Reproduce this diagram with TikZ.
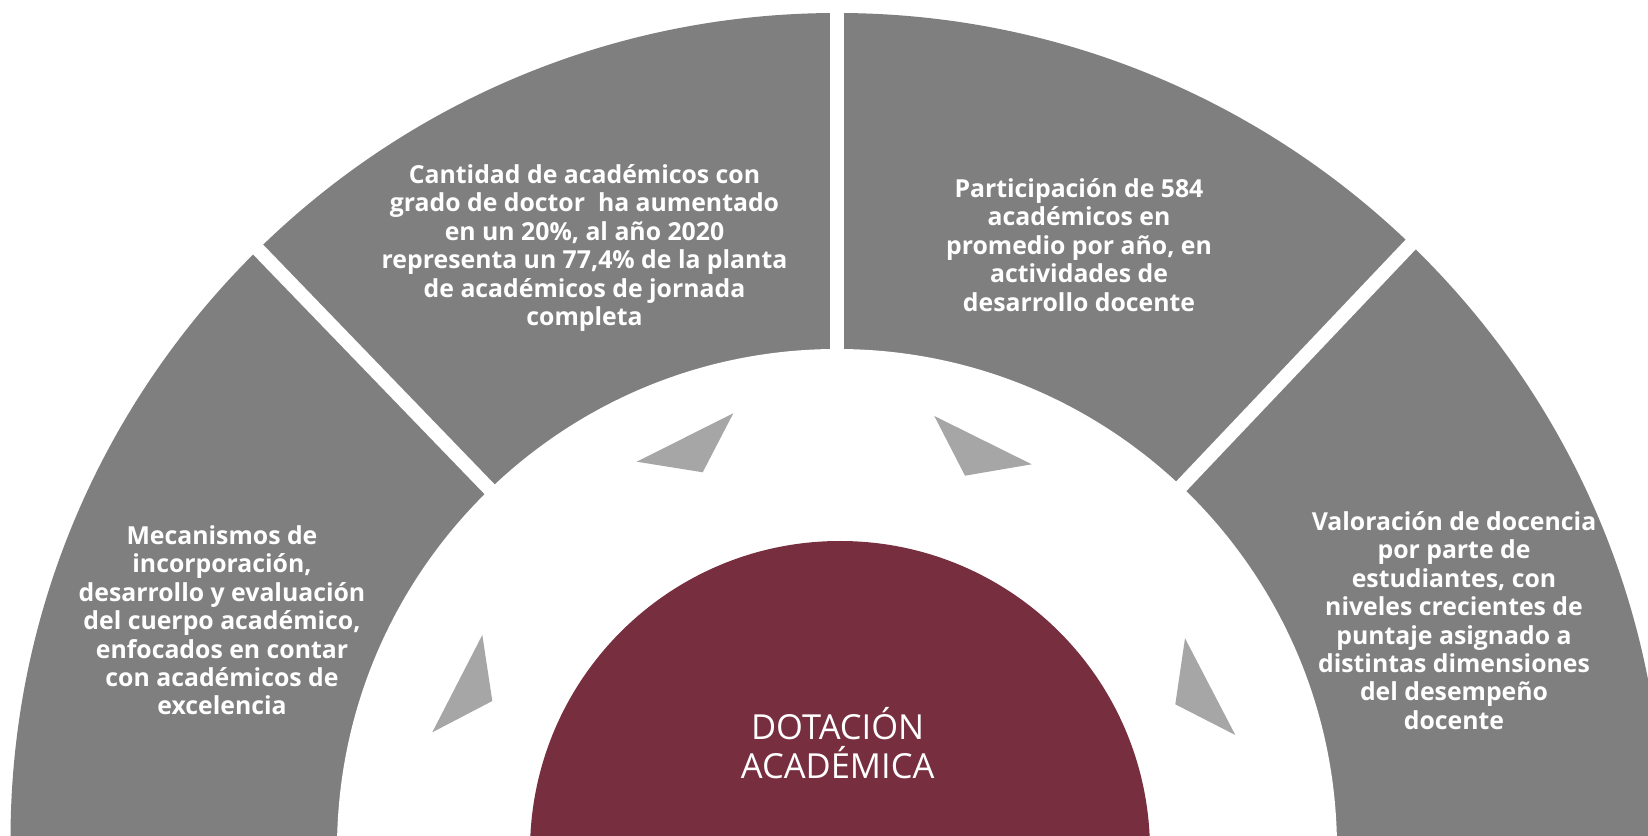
\documentclass[tikz,border=0pt]{standalone}
\usepackage{fontspec}
\setmainfont{Open Sans}
\definecolor{segGray}{HTML}{7F7F7F}
\definecolor{triGray}{HTML}{A6A6A6}
\definecolor{wine}{HTML}{772E3F}
\begin{document}
\begin{tikzpicture}[x=1pt,y=1pt,
    seg text/.style={text=white,align=center,font=\fontsize{24.8}{28.4}\selectfont\bfseries},
    core text/.style={text=white,align=center,font=\fontsize{34.5}{39}\selectfont},
    pointer/.style={fill=triGray}]
        \fill[white] (0,0) rectangle (1648,835);
        \useasboundingbox (0,0) rectangle (1648,835);

        % ring, gaps and core
        \begin{scope}
            \clip (0,0) rectangle (1648,835);
            \fill[segGray] (837,-4.5) circle (826.5);
            \fill[white] (837,-14) circle (500);
            \foreach \ang in {46.5,90,134}
                \draw[white,line width=14] (837,-14) -- ++(\ang:900);
            \fill[wine] (840,-16) circle (310);
        \end{scope}

        % pointers
        \fill[pointer] (733.3,421.7) -- (636.7,373.3) -- (702.7,362.7) -- cycle;
        \fill[pointer] (934.3,419) -- (1031.7,370.7) -- (965,359.3) -- cycle;
        \fill[pointer] (482.3,200) -- (492.3,134) -- (432.3,102.7) -- cycle;
        \fill[pointer] (1185,196.7) -- (1175.3,130.7) -- (1235.3,100) -- cycle;

        \node[seg text] at (584.5,587) (grado) {Cantidad de académicos con\\grado de doctor~ ha aumentado\\en un 20\%, al año 2020\\representa un 77,4\% de la planta\\de académicos de jornada\\completa};
        \node[seg text] at (1079,590) (desarrollo) {Participación de 584\\académicos en\\promedio por año, en\\actividades de\\desarrollo docente};
        \node[seg text] at (222,214.5) (mecanismos) {Mecanismos de\\incorporación,\\desarrollo y evaluación\\del cuerpo académico,\\enfocados en contar\\con académicos de\\excelencia};
        \node[seg text] at (1454,214.5) (valoracion) {Valoración de docencia\\por parte de\\estudiantes, con\\niveles crecientes de\\puntaje asignado a\\distintas dimensiones\\del desempeño\\docente};
        \node[core text] at (837.6,92) (dotacion) {DOTACIÓN\\ACADÉMICA};
\end{tikzpicture}
\end{document}
